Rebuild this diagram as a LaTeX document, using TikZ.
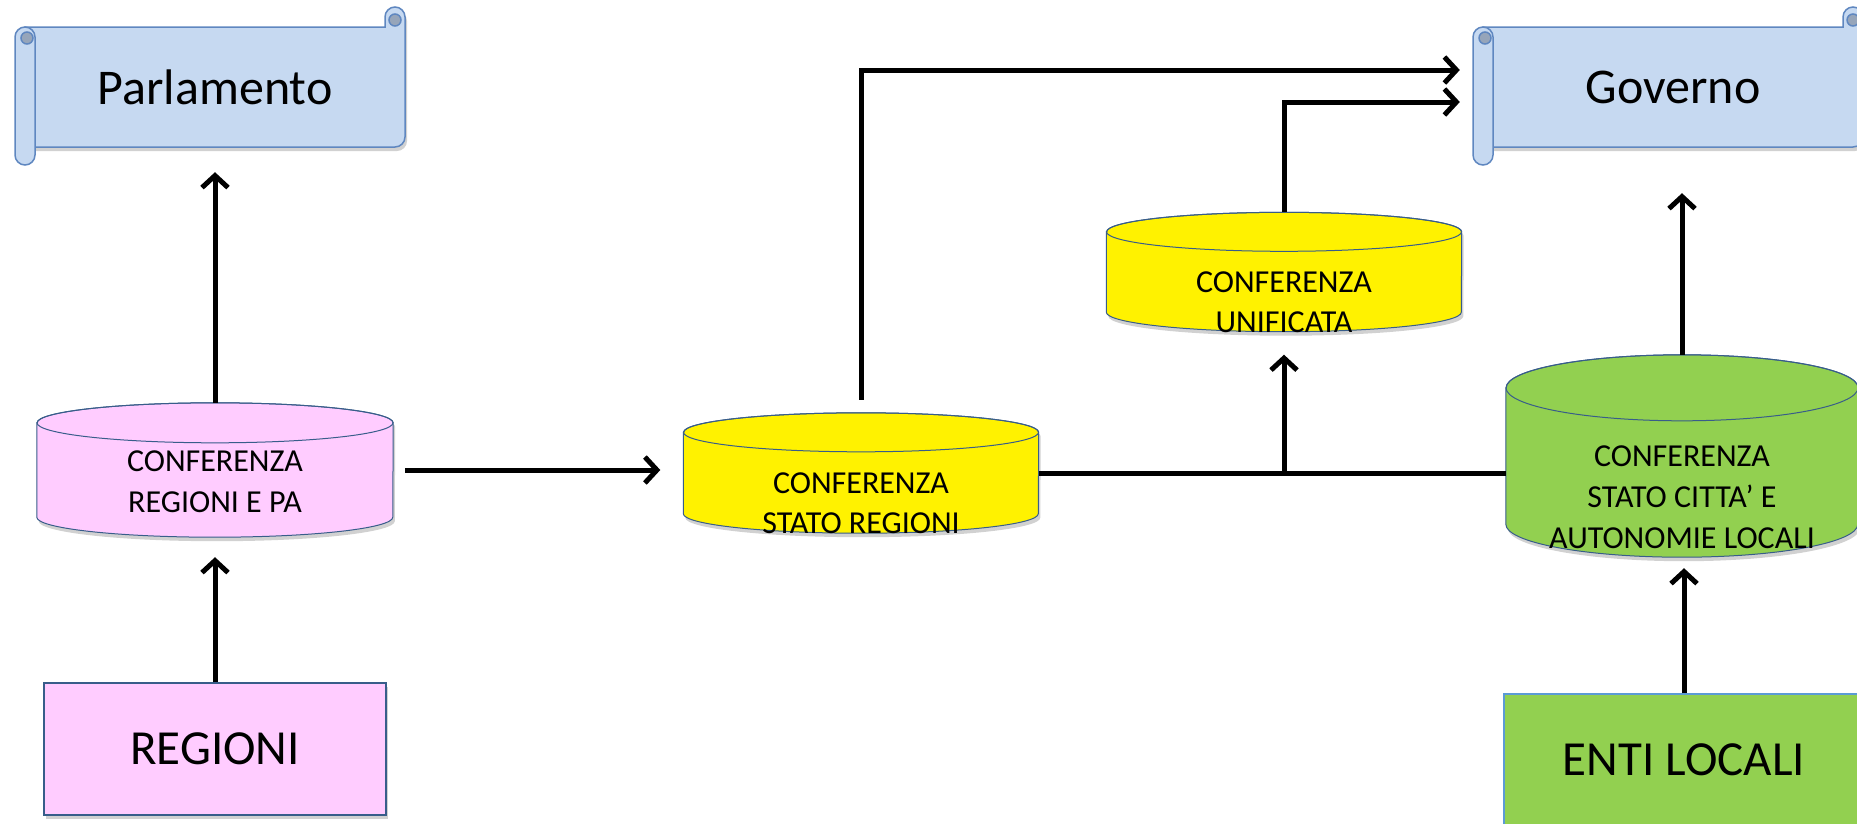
\documentclass[tikz,border=0pt]{standalone}
\usepackage{fontspec}
\setmainfont{Carlito}
\usetikzlibrary{arrows.meta, shadows, backgrounds}

\definecolor{scrollfill}{RGB}{198,217,241}
\definecolor{scrollline}{RGB}{95,135,192}
\definecolor{scrolldark}{RGB}{150,165,186}
\definecolor{pinkfill}{RGB}{255,204,255}
\definecolor{cylline}{RGB}{56,93,138}
\definecolor{greenfill}{RGB}{146,208,80}
\definecolor{entiline}{RGB}{91,155,213}

% cylinder behind a node: node, x radius, y radius, fill
\newcommand{\cylshape}[4]{
  \draw[cylpart, fill=#4, softshadow] ([yshift=-#3pt]#1.north west) -- ([yshift=#3pt]#1.south west)
    arc[start angle=180, end angle=360, x radius=#2, y radius=#3]
    -- ([yshift=-#3pt]#1.north east)
    arc[start angle=0, end angle=180, x radius=#2, y radius=#3] -- cycle;
  \draw[cylpart] ([yshift=-#3pt]#1.north) ellipse [x radius=#2, y radius=#3];
}

\tikzset{
  softshadow/.style={drop shadow={shadow xshift=2pt, shadow yshift=-4pt, fill=black, opacity=0.18}},
  scrollpart/.style={draw=scrollline, fill=scrollfill, line width=1.5pt},
  scroll/.pic={
    % body with the curl at top right
    \draw[scrollpart, softshadow] (10,-140) -- (10,-20) -- (370,-20) -- (370,-10)
      arc (180:0:10) -- (390,-130) arc (0:-90:10) -- cycle;
    \draw[scrollpart, fill=scrolldark] (380,-13) circle (6);
    % left roll
    \draw[scrollpart, rounded corners=10pt] (0,-20) rectangle (20,-158);
    \draw[scrollpart, fill=scrolldark] (12,-31) circle (6);
  },
  scrolltext/.style={minimum width=380pt, minimum height=120pt, font=\fontsize{50}{60}\selectfont},
  cylpart/.style={draw=cylline, line width=1pt},
  conf/.style={rectangle, inner sep=0pt},
  conftext/.style={align=center, font=\fontsize{32}{40}\selectfont},
  box/.style={rectangle, draw=cylline, line width=1.2pt, softshadow, font=\fontsize{49}{58}\selectfont},
  arr/.style={line width=5pt, -{Straight Barb[length=12pt, width=26pt]}},
  wire/.style={line width=5pt}
}

\begin{document}
\begin{tikzpicture}[x=1pt, y=1pt]
  \useasboundingbox (0,0) rectangle (1857,-823);

  % Scrolls
  \pic at (15,-7) {scroll};
  \node[scrolltext] (parl) at (215,-87) {Parlamento};
  \pic at (1473,-7) {scroll};
  \node[scrolltext] (gov) at (1673,-87) {Governo};

  % Conferences
  \node[conf, minimum width=356pt, minimum height=134pt,
    label={[conftext, yshift=-12pt, font=\fontsize{32}{41}\selectfont]center:CONFERENZA\\REGIONI E PA}] (regpa) at (215,-470) {};
  \node[conf, minimum width=355pt, minimum height=120pt,
    label={[conftext, yshift=-30pt]center:CONFERENZA\\STATO REGIONI}] (stato) at (861,-473) {};
  \node[conf, minimum width=355pt, minimum height=119pt,
    label={[conftext, yshift=-30pt]center:CONFERENZA\\UNIFICATA}] (unif) at (1284,-272) {};
  \node[conf, minimum width=352pt, minimum height=202pt,
    label={[conftext, yshift=-41pt, font=\fontsize{32}{41}\selectfont]center:CONFERENZA\\STATO CITTA' E\\AUTONOMIE LOCALI}] (citta) at (1682,-456) {};

  \begin{scope}[on background layer]
    \cylshape{regpa}{178}{20}{pinkfill}
    \cylshape{stato}{177.5}{19.5}{yellow}
    \cylshape{unif}{177.5}{19.5}{yellow}
    \cylshape{citta}{176}{33}{greenfill}
  \end{scope}

  % Bottom boxes
  \node[box, fill=pinkfill, minimum width=342pt, minimum height=132pt] (reg) at (215,-749) {REGIONI};
  \node[box, fill=greenfill, draw=entiline, minimum width=360pt, minimum height=132pt] (enti) at (1684,-760) {ENTI LOCALI};

  % Arrows
  \draw[arr, shorten >=20pt] (reg.north) -- (regpa.south);
  \draw[arr, shorten >=25pt] (regpa.north) -- (parl.south);
  \draw[arr, shorten <=12pt, shorten >=23pt] (regpa.east) -- (regpa.east -| stato.west);
  \draw[arr, shorten <=13pt, shorten >=23pt] (stato.north) |- ([yshift=17pt]gov.west);
  \coordinate (junc) at (unif.south |- stato.east);
  \draw[wire] (stato.east) -- (stato.east -| citta.west);
  \draw[arr, shorten >=23pt] (junc) -- (unif.south);
  \draw[arr, shorten >=23pt] (unif.north) |- ([yshift=-15pt]gov.west);
  \draw[arr, shorten >=46pt] (citta.north) -- (citta.north |- gov.south);
  \draw[arr, shorten >=11pt] (enti.north) -- (enti.north |- citta.south);

\end{tikzpicture}
\end{document}
